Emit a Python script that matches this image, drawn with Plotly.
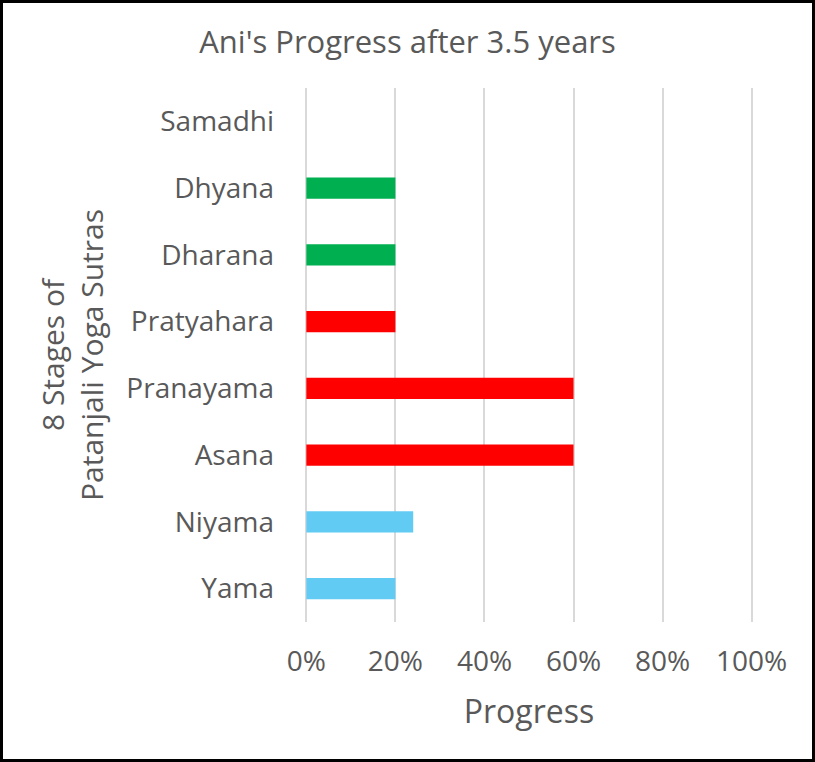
import plotly.graph_objects as go

stages = ["Yama", "Niyama", "Asana", "Pranayama", "Pratyahara", "Dharana", "Dhyana", "Samadhi"]
progress = [0.20, 0.24, 0.60, 0.60, 0.20, 0.20, 0.20, 0.0]
colors = ["#61CBF3", "#61CBF3", "#FF0000", "#FF0000", "#FF0000", "#00B050", "#00B050", "#00B050"]
x_ticks = [0, 0.2, 0.4, 0.6, 0.8, 1.0]
x_tick_labels = ["0%", "20%", "40%", "60%", "80%", "100%"]

W, H = 815, 762
ml, mr, mt, mb = 305, 62, 88, 140

fig = go.Figure(go.Bar(
    y=stages, x=progress, orientation="h",
    marker=dict(color=colors, line=dict(width=0)),
    width=0.32,
))

font_family = "Open Sans, Liberation Sans, sans-serif"
gray = "#595959"

pw = W - ml - mr
ph = H - mt - mb
fig.update_layout(
    width=W, height=H,
    margin=dict(l=ml, r=mr, t=mt, b=mb),
    plot_bgcolor="white", paper_bgcolor="white",
    showlegend=False,
    title=dict(text="Ani's Progress after 3.5 years", x=0.5, xref="container", xanchor="center",
               y=1 - 42 / H, yref="container", yanchor="middle",
               font=dict(family=font_family, size=31, color=gray)),
    xaxis=dict(range=[-0.003, 1.003], tickvals=x_ticks, ticktext=x_tick_labels,
               showgrid=True, gridcolor="#D9D9D9", gridwidth=1.5,
               zeroline=False, showline=False, ticks="",
               ticklabelstandoff=20,
               tickfont=dict(family=font_family, size=28, color=gray),
               title=dict(text="Progress", font=dict(family=font_family, size=32, color=gray), standoff=22),
               fixedrange=True),
    yaxis=dict(categoryorder="array", categoryarray=stages,
               showgrid=False, zeroline=False, showline=False, ticks="",
               ticklabelstandoff=30,
               tickfont=dict(family=font_family, size=28, color=gray),
               title=dict(text="8 Stages of<br>Patanjali Yoga Sutras",
                          font=dict(family=font_family, size=30, color=gray), standoff=13),
               range=[-0.5, 7.5]),
    shapes=[dict(type="rect", xref="paper", yref="paper",
                 x0=-(ml - 1.5) / pw, x1=1 + (mr - 1.5) / pw,
                 y0=-(mb - 1.5) / ph, y1=1 + (mt - 1.5) / ph,
                 line=dict(color="black", width=3), fillcolor="rgba(0,0,0,0)")],
)

fig.write_html("out.html")
